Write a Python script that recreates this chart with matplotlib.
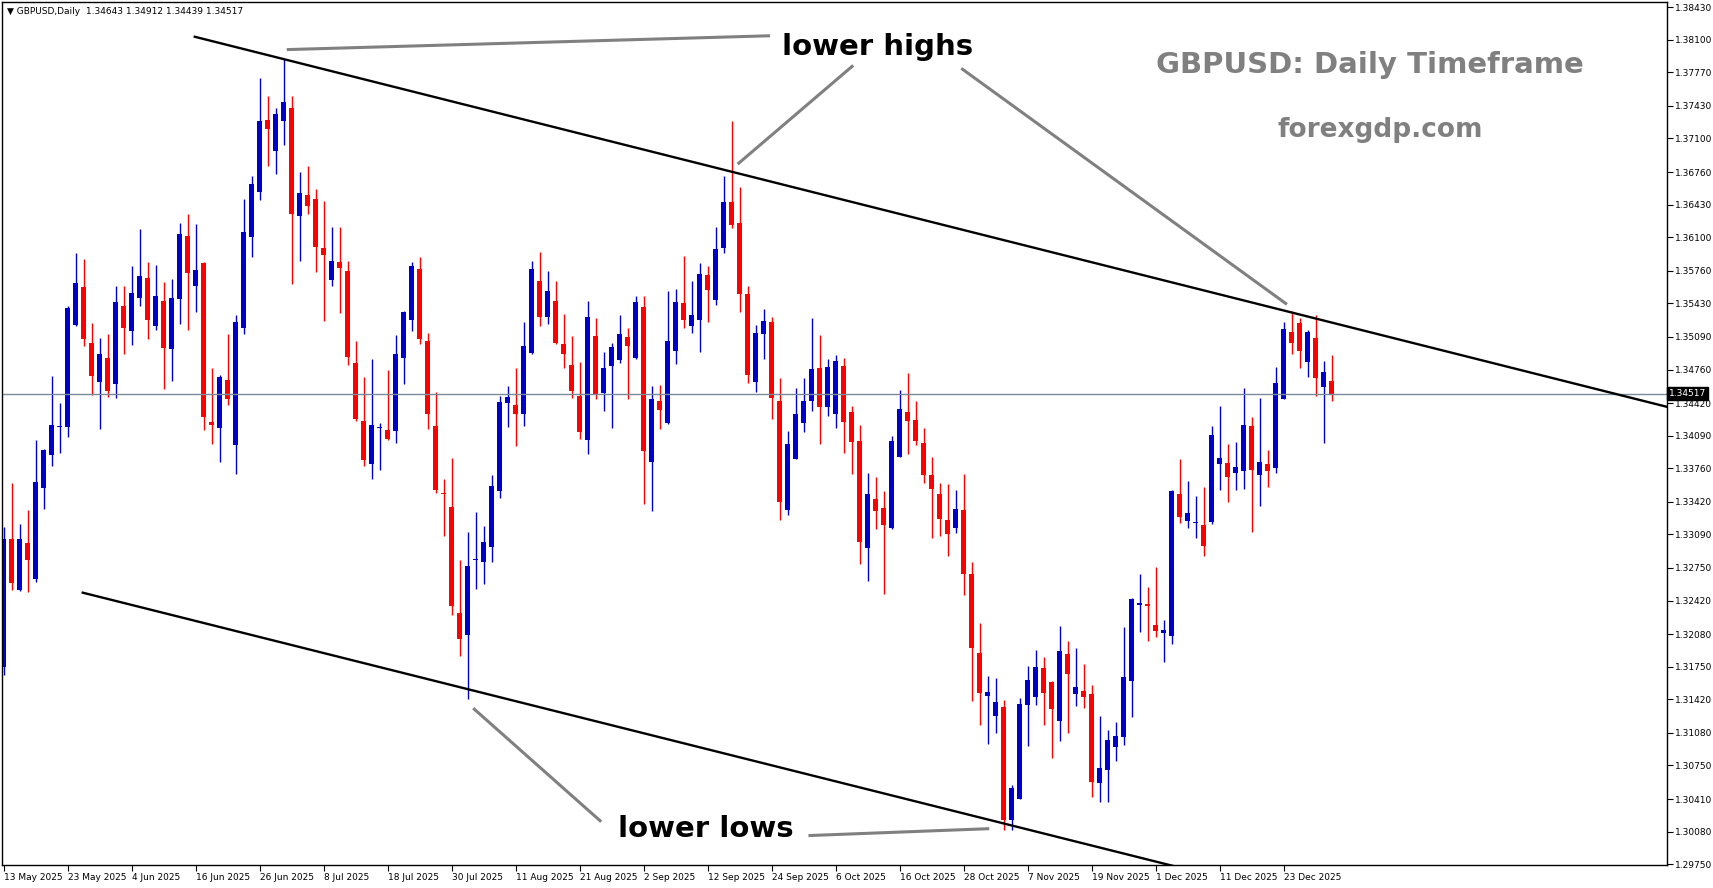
import numpy as np
import matplotlib
matplotlib.use("Agg")
import matplotlib.pyplot as plt
import matplotlib.transforms as mtransforms

# daily GBPUSD candles (bar index 0 = 13 May 2025)
opens = [1.3175, 1.3304, 1.3253, 1.3300, 1.3264, 1.3356, 1.3389, 1.3418, 1.3418, 1.3521,
         1.3560, 1.3503, 1.3463, 1.3488, 1.3461, 1.3540, 1.3515, 1.3548, 1.3569, 1.3520,
         1.3545, 1.3497, 1.3547, 1.3611, 1.3561, 1.3584, 1.3423, 1.3417, 1.3465, 1.3400,
         1.3518, 1.3610, 1.3656, 1.3729, 1.3697, 1.3728, 1.3741, 1.3631, 1.3653, 1.3649,
         1.3599, 1.3567, 1.3585, 1.3576, 1.3483, 1.3424, 1.3380, 1.3417, 1.3415, 1.3414,
         1.3488, 1.3526, 1.3578, 1.3505, 1.3419, 1.3351, 1.3337, 1.3229, 1.3207, 1.3283,
         1.3281, 1.3296, 1.3353, 1.3442, 1.3440, 1.3431, 1.3493, 1.3566, 1.3529, 1.3545,
         1.3502, 1.3481, 1.3449, 1.3405, 1.3510, 1.3452, 1.3480, 1.3486, 1.3509, 1.3488,
         1.3539, 1.3382, 1.3444, 1.3422, 1.3495, 1.3543, 1.3520, 1.3526, 1.3572, 1.3546,
         1.3599, 1.3646, 1.3624, 1.3552, 1.3463, 1.3512, 1.3524, 1.3444, 1.3334, 1.3385,
         1.3422, 1.3444, 1.3478, 1.3438, 1.3431, 1.3480, 1.3433, 1.3404, 1.3295, 1.3345,
         1.3336, 1.3315, 1.3387, 1.3433, 1.3425, 1.3402, 1.3369, 1.3350, 1.3324, 1.3315,
         1.3334, 1.3269, 1.3189, 1.3145, 1.3125, 1.3134, 1.3020, 1.3041, 1.3136, 1.3144,
         1.3174, 1.3160, 1.3120, 1.3188, 1.3147, 1.3150, 1.3147, 1.3057, 1.3070, 1.3094,
         1.3104, 1.3161, 1.3238, 1.3239, 1.3217, 1.3209, 1.3206, 1.3350, 1.3323, 1.3321,
         1.3319, 1.3322, 1.3380, 1.3381, 1.3371, 1.3373, 1.3419, 1.3369, 1.3380, 1.3376,
         1.3446, 1.3514, 1.3523, 1.3484, 1.3508, 1.3458, 1.34643]
highs = [1.3317, 1.3361, 1.3320, 1.3334, 1.3405, 1.3395, 1.3469, 1.3442, 1.3540, 1.3594,
         1.3588, 1.3523, 1.3508, 1.3512, 1.3561, 1.3561, 1.3581, 1.3618, 1.3585, 1.3582,
         1.3565, 1.3568, 1.3624, 1.3633, 1.3623, 1.3585, 1.3478, 1.3470, 1.3512, 1.3531,
         1.3649, 1.3672, 1.3771, 1.3753, 1.3741, 1.3790, 1.3753, 1.3676, 1.3682, 1.3659,
         1.3647, 1.3620, 1.3620, 1.3586, 1.3505, 1.3468, 1.3487, 1.3422, 1.3476, 1.3511,
         1.3535, 1.3585, 1.3590, 1.3513, 1.3453, 1.3365, 1.3386, 1.3283, 1.3311, 1.3332,
         1.3318, 1.3369, 1.3449, 1.3459, 1.3478, 1.3524, 1.3586, 1.3595, 1.3576, 1.3566,
         1.3532, 1.3510, 1.3484, 1.3545, 1.3528, 1.3494, 1.3503, 1.3531, 1.3518, 1.3550,
         1.3550, 1.3459, 1.3460, 1.3556, 1.3558, 1.3591, 1.3566, 1.3584, 1.3581, 1.3620,
         1.3672, 1.3728, 1.3661, 1.3561, 1.3521, 1.3537, 1.3529, 1.3467, 1.3414, 1.3457,
         1.3467, 1.3528, 1.3511, 1.3487, 1.3491, 1.3488, 1.3439, 1.3420, 1.3371, 1.3367,
         1.3353, 1.3409, 1.3455, 1.3472, 1.3444, 1.3417, 1.3387, 1.3361, 1.3360, 1.3354,
         1.3370, 1.3281, 1.3219, 1.3166, 1.3164, 1.3141, 1.3055, 1.3143, 1.3176, 1.3192,
         1.3185, 1.3161, 1.3216, 1.3201, 1.3194, 1.3178, 1.3156, 1.3125, 1.3111, 1.3119,
         1.3215, 1.3245, 1.3269, 1.3256, 1.3276, 1.3222, 1.3354, 1.3385, 1.3363, 1.3348,
         1.3357, 1.3419, 1.3439, 1.3401, 1.3403, 1.3457, 1.3428, 1.3447, 1.3394, 1.3479,
         1.3524, 1.3535, 1.3528, 1.3516, 1.3531, 1.3485, 1.34912]
lows = [1.3167, 1.3253, 1.3252, 1.3251, 1.3261, 1.3335, 1.3378, 1.3391, 1.3408, 1.3520,
        1.3500, 1.3450, 1.3416, 1.3448, 1.3447, 1.3492, 1.3501, 1.3540, 1.3507, 1.3516,
        1.3456, 1.3464, 1.3522, 1.3516, 1.3534, 1.3415, 1.3401, 1.3382, 1.3440, 1.3370,
        1.3512, 1.3590, 1.3648, 1.3682, 1.3674, 1.3703, 1.3563, 1.3586, 1.3634, 1.3575,
        1.3525, 1.3561, 1.3533, 1.3481, 1.3424, 1.3378, 1.3365, 1.3374, 1.3405, 1.3402,
        1.3461, 1.3515, 1.3502, 1.3416, 1.3351, 1.3307, 1.3227, 1.3186, 1.3142, 1.3254,
        1.3259, 1.3281, 1.3346, 1.3418, 1.3399, 1.3419, 1.3492, 1.3520, 1.3522, 1.3502,
        1.3478, 1.3447, 1.3406, 1.3390, 1.3446, 1.3434, 1.3417, 1.3483, 1.3446, 1.3487,
        1.3340, 1.3333, 1.3416, 1.3421, 1.3482, 1.3518, 1.3513, 1.3494, 1.3524, 1.3541,
        1.3594, 1.3619, 1.3534, 1.3462, 1.3453, 1.3487, 1.3426, 1.3324, 1.3329, 1.3385,
        1.3413, 1.3434, 1.3401, 1.3429, 1.3417, 1.3391, 1.3370, 1.3279, 1.3262, 1.3314,
        1.3249, 1.3314, 1.3387, 1.3390, 1.3400, 1.3361, 1.3305, 1.3307, 1.3287, 1.3310,
        1.3248, 1.3140, 1.3116, 1.3097, 1.3108, 1.3010, 1.3010, 1.3041, 1.3095, 1.3136,
        1.3116, 1.3083, 1.3100, 1.3108, 1.3135, 1.3133, 1.3043, 1.3038, 1.3038, 1.3080,
        1.3096, 1.3124, 1.3210, 1.3201, 1.3205, 1.3180, 1.3198, 1.3321, 1.3315, 1.3305,
        1.3287, 1.3320, 1.3354, 1.3342, 1.3354, 1.3355, 1.3311, 1.3338, 1.3357, 1.3371,
        1.3446, 1.3492, 1.3478, 1.3468, 1.3449, 1.3402, 1.34439]
closes = [1.3304, 1.3260, 1.3304, 1.3283, 1.3362, 1.3394, 1.3420, 1.3419, 1.3538, 1.3564,
          1.3507, 1.3469, 1.3492, 1.3454, 1.3544, 1.3518, 1.3553, 1.3571, 1.3526, 1.3550,
          1.3498, 1.3548, 1.3613, 1.3574, 1.3577, 1.3428, 1.3420, 1.3468, 1.3446, 1.3524,
          1.3615, 1.3664, 1.3728, 1.3720, 1.3735, 1.3747, 1.3634, 1.3655, 1.3642, 1.3600,
          1.3592, 1.3586, 1.3579, 1.3489, 1.3426, 1.3384, 1.3420, 1.3418, 1.3406, 1.3492,
          1.3534, 1.3581, 1.3507, 1.3431, 1.3354, 1.3350, 1.3236, 1.3203, 1.3277, 1.3284,
          1.3301, 1.3358, 1.3443, 1.3448, 1.3431, 1.3500, 1.3578, 1.3529, 1.3556, 1.3503,
          1.3492, 1.3454, 1.3413, 1.3529, 1.3451, 1.3478, 1.3499, 1.3512, 1.3500, 1.3544,
          1.3393, 1.3446, 1.3435, 1.3505, 1.3544, 1.3526, 1.3531, 1.3573, 1.3557, 1.3598,
          1.3646, 1.3622, 1.3552, 1.3470, 1.3513, 1.3525, 1.3447, 1.3342, 1.3401, 1.3431,
          1.3444, 1.3477, 1.3438, 1.3479, 1.3485, 1.3423, 1.3403, 1.3301, 1.3350, 1.3333,
          1.3319, 1.3404, 1.3436, 1.3424, 1.3404, 1.3369, 1.3355, 1.3325, 1.3309, 1.3335,
          1.3269, 1.3194, 1.3148, 1.3149, 1.3139, 1.3020, 1.3052, 1.3137, 1.3162, 1.3175,
          1.3148, 1.3132, 1.3191, 1.3168, 1.3154, 1.3144, 1.3058, 1.3072, 1.3101, 1.3105,
          1.3165, 1.3244, 1.3240, 1.3237, 1.3211, 1.3212, 1.3353, 1.3327, 1.3331, 1.3322,
          1.3297, 1.3410, 1.3386, 1.3367, 1.3377, 1.3420, 1.3374, 1.3382, 1.3373, 1.3462,
          1.3517, 1.3503, 1.3495, 1.3514, 1.3467, 1.3473, 1.34517]

date_labels = ["13 May 2025", "23 May 2025", "4 Jun 2025", "16 Jun 2025", "26 Jun 2025",
               "8 Jul 2025", "18 Jul 2025", "30 Jul 2025", "11 Aug 2025", "21 Aug 2025",
               "2 Sep 2025", "12 Sep 2025", "24 Sep 2025", "6 Oct 2025", "16 Oct 2025",
               "28 Oct 2025", "7 Nov 2025", "19 Nov 2025", "1 Dec 2025", "11 Dec 2025",
               "23 Dec 2025"]
price_ticks = [1.38430, 1.38100, 1.37770, 1.37430, 1.37100, 1.36760, 1.36430, 1.36100,
               1.35760, 1.35430, 1.35090, 1.34760, 1.34420, 1.34090, 1.33760, 1.33420,
               1.33090, 1.32750, 1.32420, 1.32080, 1.31750, 1.31420, 1.31080, 1.30750,
               1.30410, 1.30080, 1.29750]

# channel lines (bar index, price)
upper_line = [(23.9, 1.3813), (208.0, 1.3438)]
lower_line = [(9.9, 1.3250), (146.8, 1.2972)]

o = np.array(opens); h = np.array(highs); l = np.array(lows); c = np.array(closes)
x = np.arange(len(o))
up = c > o
cols = np.where(up, '#0000cc', '#ff0000')

fig = plt.figure(figsize=(17.13, 8.88), dpi=100)
ax = fig.add_axes([2/1713, 23/888, 1665/1713, 863/888])

ax.vlines(x, l, h, colors=cols, lw=1.0)
body = np.maximum(np.abs(c - o), 0.00009)
ax.bar(x, body, bottom=np.minimum(o, c), width=0.62, color=cols, linewidth=0)

# current price line
last = closes[-1]
ax.axhline(last, color='#7a8a99', lw=1.0)

# channel
ax.plot(*zip(*upper_line), color='black', lw=1.7)
ax.plot(*zip(*lower_line), color='black', lw=1.7)

# annotation pointers
grey = '#808080'
pointers = [[(35.4, 1.3800), (95.8, 1.3814)],
            [(106.2, 1.3784), (91.75, 1.3684)],
            [(119.7, 1.3781), (160.4, 1.3542)],
            [(74.7, 1.3018), (58.7, 1.3133)],
            [(100.6, 1.3004), (123.2, 1.3011)]]
for seg in pointers:
    ax.plot(*zip(*seg), color=grey, lw=2.2, solid_capstyle='butt')

ax.text(109.2, 1.3803, "lower highs", fontsize=21, fontweight='bold', ha='center', va='center')
ax.text(87.8, 1.3011, "lower lows", fontsize=21, fontweight='bold', ha='center', va='center')

ax.text(0.8216, 0.927, "GBPUSD: Daily Timeframe", transform=ax.transAxes, fontsize=21,
        fontweight='bold', color=grey, ha='center', va='center')
ax.text(0.8276, 0.852, "forexgdp.com", transform=ax.transAxes, fontsize=19,
        fontweight='bold', color=grey, ha='center', va='center')

ax.text(0.003, 0.994, "\u25BC GBPUSD,Daily  %.5f %.5f %.5f %.5f" % (opens[-1], highs[-1], lows[-1], closes[-1]),
        transform=ax.transAxes, fontsize=6.5, va='top', ha='left')

ax.set_xlim(-0.19, 207.9)
ax.set_ylim(1.29742, 1.38482)

ax.set_xticks(np.arange(0, 8 * len(date_labels), 8))
ax.set_xticklabels(date_labels, fontsize=6.5)
for t in ax.get_xticklabels():
    t.set_horizontalalignment('left')
ax.tick_params(axis='x', length=4, width=0.8, pad=2)

ax.yaxis.tick_right()
ax.set_yticks(price_ticks)
ax.set_yticklabels(["%.5f" % v for v in price_ticks], fontsize=6.5)
ax.tick_params(axis='y', length=4, width=0.8, pad=2)

trans = mtransforms.blended_transform_factory(ax.transAxes, ax.transData)
ax.text(1.0012, last, "%.5f" % last, transform=trans, fontsize=6.5, color='white',
        ha='left', va='center', bbox=dict(boxstyle='square,pad=0.2', fc='black', ec='black'))

for s in ax.spines.values():
    s.set_linewidth(1.0)

fig.savefig("out.png", dpi=100)
